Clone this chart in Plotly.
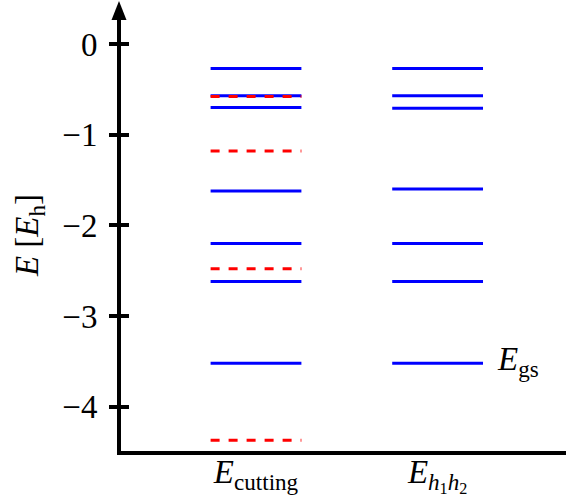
import plotly.graph_objects as go

# ---- data ----
categories = ["<i>E</i><sub>cutting</sub>", "<i>E</i><sub><i>h</i><sub>1</sub><i>h</i><sub>2</sub></sub>"]
cutting_blue = [-0.27, -0.57, -0.70, -1.62, -2.20, -2.62, -3.52]
cutting_red = [-0.58, -1.18, -2.48, -4.37]
h1h2_blue = [-0.27, -0.57, -0.71, -1.60, -2.20, -2.62, -3.52]
y_ticks = [0, -1, -2, -3, -4]
y_ticktext = ["0", "\u22121", "\u22122", "\u22123", "\u22124"]
gs_label = "<i>E</i><sub>gs</sub>"
y_title = "<i>E</i> [<i>E</i><sub>h</sub>]"

FONT = "Liberation Serif"
FS = 33
HALF = 0.25


def level_xy(center, values):
    xs, ys = [], []
    for v in values:
        xs += [center - HALF, center + HALF, None]
        ys += [v, v, None]
    return xs, ys


fig = go.Figure()
x, y = level_xy(0, cutting_blue)
fig.add_trace(go.Scatter(x=x, y=y, mode="lines", line=dict(color="#0000ff", width=3),
                         showlegend=False, hoverinfo="skip"))
x, y = level_xy(1, h1h2_blue)
fig.add_trace(go.Scatter(x=x, y=y, mode="lines", line=dict(color="#0000ff", width=3),
                         showlegend=False, hoverinfo="skip"))
x, y = level_xy(0, cutting_red)
fig.add_trace(go.Scatter(x=x, y=y, mode="lines", line=dict(color="#ff0000", width=3, dash="9px,9px"),
                         showlegend=False, hoverinfo="skip"))
# invisible trace for the second y axis (inner ticks)
fig.add_trace(go.Scatter(x=[None], y=[None], yaxis="y2", showlegend=False, hoverinfo="skip"))

fig.add_annotation(x=1 + HALF, y=h1h2_blue[-1], xref="x", yref="y", text=gs_label,
                   showarrow=False, xanchor="left", yanchor="middle", xshift=12, yshift=2,
                   font=dict(family=FONT, size=FS, color="black"))

# arrow head on the y axis
fig.add_shape(type="path", xref="paper", yref="paper", xsizemode="pixel", ysizemode="pixel",
              xanchor=0, yanchor=1, path="M -9.5 -1 L 5.5 -1 L -2 18 Z",
              fillcolor="black", line=dict(color="black", width=0), layer="above")

yr = [-4.489, 0.2757]
fig.update_layout(
    width=566, height=499,
    margin=dict(l=121, r=0, t=19, b=48, autoexpand=False),
    paper_bgcolor="white", plot_bgcolor="white",
    font=dict(family=FONT, size=FS, color="black"),
    xaxis=dict(range=[-0.7434, 1.707], tickvals=[0, 1], ticktext=categories,
               showgrid=False, zeroline=False, showline=True, linecolor="black", linewidth=4,
               ticks="", ticklabelstandoff=-12, automargin=False,
               tickfont=dict(family=FONT, size=FS)),
    yaxis=dict(range=yr, tickvals=y_ticks, ticktext=y_ticktext,
               showgrid=False, zeroline=False, showline=True, linecolor="black", linewidth=4,
               ticks="outside", ticklen=8, tickwidth=4, tickcolor="black",
               ticklabelstandoff=5, automargin=False,
               title=dict(text=y_title, font=dict(family=FONT, size=FS), standoff=15),
               tickfont=dict(family=FONT, size=FS)),
    yaxis2=dict(range=yr, overlaying="y", side="left", tickvals=y_ticks, showticklabels=False,
                showgrid=False, zeroline=False, showline=False, automargin=False,
                ticks="inside", ticklen=8, tickwidth=4, tickcolor="black"),
)

fig.write_html("out.html", config={"displayModeBar": False},
               post_script="document.body.style.margin='0px';")
